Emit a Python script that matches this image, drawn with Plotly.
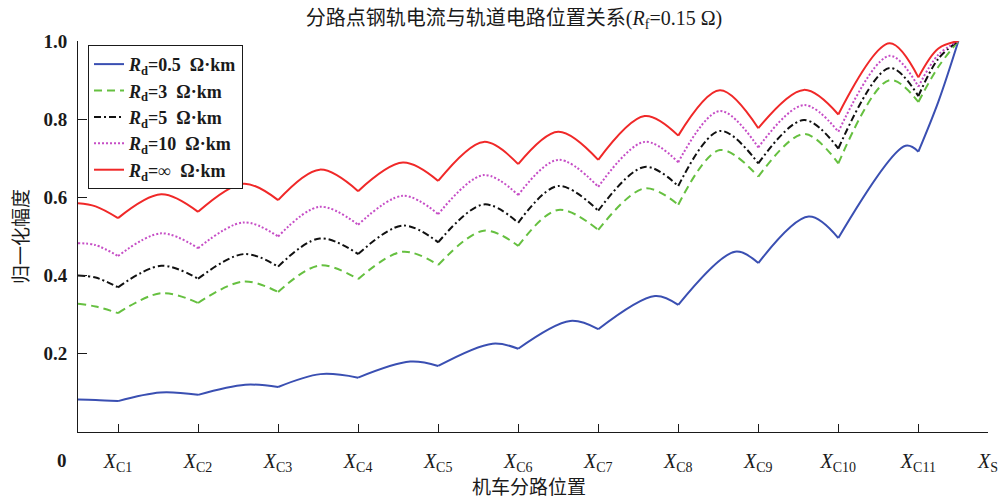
import plotly.graph_objects as go

# Capacitor (shunt) positions along the track circuit, in capacitor spacings
kink_x = [0.5, 1.5, 2.5, 3.5, 4.5, 5.5, 6.5, 7.5, 8.5, 9.5, 10.5]
tick_labels = ["<i>X</i><sub>C%d</sub>" % i for i in range(1, 12)]
xs_pos = 11.37

# Sample positions: start, kinks, arch peaks, end
x_upper = [0, 0.22, 0.5, 1.04, 1.5, 2.07, 2.5, 3.02, 3.5, 4.06, 4.5, 5.07, 5.5,
           6.0, 6.5, 7.08, 7.5, 8.02, 8.5, 9.07, 9.5, 10.14, 10.5, 10.75, 11.0]
x_low = [0, 0.22, 0.5, 1.03, 1.5, 2.09, 2.5, 3.03, 3.5, 4.15, 4.5, 5.18, 5.5,
         6.15, 6.5, 7.21, 7.5, 8.21, 8.5, 9.13, 9.5, 10.34, 10.5, 10.75, 11.0]

# Normalised rail current amplitude for each ballast resistance
y_rd05 = [0.083, 0.082, 0.079, 0.101, 0.095, 0.121, 0.115, 0.148, 0.139, 0.180, 0.169,
          0.226, 0.213, 0.284, 0.263, 0.348, 0.325, 0.461, 0.432, 0.551, 0.496, 0.732,
          0.717, 0.845, 1.0]
y_rd3 = [0.328, 0.321, 0.304, 0.355, 0.330, 0.385, 0.358, 0.426, 0.391, 0.461, 0.427,
         0.515, 0.476, 0.568, 0.517, 0.623, 0.581, 0.721, 0.653, 0.762, 0.687, 0.900,
         0.844, 0.934, 1.0]
y_rd5 = [0.400, 0.395, 0.370, 0.425, 0.392, 0.455, 0.423, 0.495, 0.455, 0.528, 0.485,
         0.582, 0.535, 0.629, 0.566, 0.678, 0.629, 0.770, 0.687, 0.798, 0.725, 0.931,
         0.859, 0.955, 1.0]
y_rd10 = [0.483, 0.478, 0.450, 0.508, 0.470, 0.536, 0.500, 0.576, 0.530, 0.604, 0.557,
          0.657, 0.606, 0.696, 0.627, 0.742, 0.690, 0.821, 0.728, 0.836, 0.768, 0.962,
          0.883, 0.965, 1.0]
y_rdinf = [0.585, 0.577, 0.547, 0.608, 0.563, 0.635, 0.593, 0.671, 0.616, 0.689, 0.642,
           0.742, 0.685, 0.768, 0.696, 0.808, 0.758, 0.874, 0.777, 0.875, 0.812, 0.994,
           0.907, 0.981, 1.0]

series = [
    ("<i>R</i><sub>d</sub>=0.5  Ω·km", x_low, y_rd05, "#3a4fb2", "solid"),
    ("<i>R</i><sub>d</sub>=3  Ω·km", x_upper, y_rd3, "#66c040", "8px,5px"),
    ("<i>R</i><sub>d</sub>=5  Ω·km", x_upper, y_rd5, "#111111", "7px,3px,2px,3px"),
    ("<i>R</i><sub>d</sub>=10  Ω·km", x_upper, y_rd10, "#c64ec6", "2px,2px"),
    ("<i>R</i><sub>d</sub>=∞  Ω·km", x_upper, y_rdinf, "#f02828", "solid"),
]

SERIF = "Liberation Serif, Noto Sans CJK SC"
fig = go.Figure()

for gi, (name, xv, yv, color, dash) in enumerate(series):
    # split at the capacitor positions so each arch is smooth and each kink stays sharp
    cuts = [0] + [i for i, v in enumerate(xv) if v in kink_x] + [len(xv) - 1]
    for si in range(len(cuts) - 1):
        a, b = cuts[si], cuts[si + 1]
        fig.add_trace(go.Scatter(
            x=xv[a:b + 1], y=yv[a:b + 1], mode="lines",
            line=dict(color=color, width=2, dash=dash, shape="spline", smoothing=1),
            name=name, legendgroup="g%d" % gi, showlegend=(si == 0),
            hoverinfo="skip",
        ))

fig.update_layout(
    width=1000, height=501,
    margin=dict(l=78, r=12, t=41, b=69, autoexpand=False),
    paper_bgcolor="white", plot_bgcolor="white",
    font=dict(family=SERIF, size=18, color="#1a1a1a"),
    title=dict(text="分路点钢轨电流与轨道电路位置关系(<i>R</i><sub>f</sub>=0.15 Ω)",
               x=0.514, xanchor="center", y=0.965, yanchor="middle",
               font=dict(family=SERIF, size=20, color="#1a1a1a")),
    legend=dict(x=0.011, y=0.99, xanchor="left", yanchor="top",
                bgcolor="white", bordercolor="#1a1a1a", borderwidth=1,
                font=dict(family=SERIF, size=18, color="#1a1a1a", weight="bold"),
                tracegroupgap=0, itemwidth=30),
    showlegend=True,
)

fig.update_xaxes(
    range=[0, xs_pos], showgrid=False, zeroline=False, automargin=False,
    showline=True, linecolor="#1a1a1a", linewidth=1,
    ticks="inside", ticklen=8, tickcolor="#1a1a1a",
    tickvals=kink_x + [xs_pos], ticktext=tick_labels + ["<i>X</i><sub>S</sub>"],
    tickfont=dict(family=SERIF, size=20, color="#1a1a1a"),
    ticklabelstandoff=11,
)
fig.update_yaxes(
    range=[0, 1], showgrid=False, zeroline=False, automargin=False,
    showline=True, linecolor="#1a1a1a", linewidth=1,
    ticks="inside", ticklen=9, tickcolor="#1a1a1a",
    tickvals=[0.2, 0.4, 0.6, 0.8, 1.0], ticktext=["0.2", "0.4", "0.6", "0.8", "1.0"],
    tickfont=dict(family=SERIF, size=19, color="#1a1a1a", weight="bold"),
    ticklabelstandoff=6,
)

fig.add_annotation(text="0", xref="paper", yref="paper", x=-0.018, y=-0.072,
                   xanchor="center", yanchor="middle", showarrow=False,
                   font=dict(family=SERIF, size=19, color="#1a1a1a", weight="bold"))
fig.add_annotation(text="机车分路位置", xref="paper", yref="paper", x=0.496, y=-0.143,
                   xanchor="center", yanchor="middle", showarrow=False,
                   font=dict(family=SERIF, size=19, color="#1a1a1a"))
fig.add_annotation(text="归一化幅度", xref="paper", yref="paper", x=-0.062, y=0.5,
                   xanchor="center", yanchor="middle", showarrow=False, textangle=-90,
                   font=dict(family=SERIF, size=19, color="#1a1a1a"))

fig.write_html("out.html")
